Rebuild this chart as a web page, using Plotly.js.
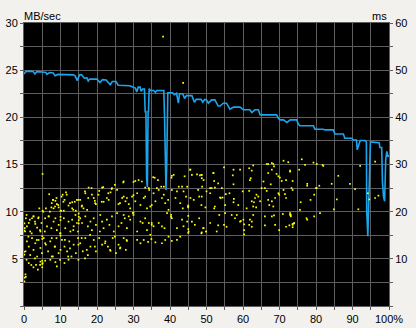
<!DOCTYPE html>
<html>
<head>
<meta charset="utf-8">
<script src="https://cdn.plot.ly/plotly-3.0.1.min.js"></script>
<style>
html,body{margin:0;padding:0;background:#f2f1ed;}
#chart{width:416px;height:328px;}
</style>
</head>
<body>
<div id="chart"></div>
<script>
// Transfer rate (MB/sec) vs. position (%)
const ratePct = [0,0.5,1.5,2.5,3.0,3.5,5.0,6.0,6.3,7.0,8.0,8.5,9.3,13.5,14.0,14.6,15.2,15.8,16.5,17.2,17.6,18.0,20.0,20.8,21.5,22.5,23.6,24.2,25.2,25.8,29.0,29.8,30.5,30.9,31.3,31.8,32.1,32.5,33.0,33.2,33.4,33.6,33.8,34.0,34.1,34.3,34.6,35.5,36.0,36.4,38.3,38.5,38.7,38.9,39.1,39.2,39.4,40.7,41.2,41.8,42.3,42.6,43.5,44.0,44.5,46.0,46.7,47.2,48.5,49.0,49.5,50.0,50.5,51.4,52.3,53.2,53.7,54.6,55.5,56.4,57.4,59.2,60.1,61.0,61.9,62.4,63.3,64.2,64.7,65.1,69.2,69.7,70.1,71.1,72.0,72.9,74.7,75.2,75.6,79.3,79.7,82.0,82.5,84.7,85.2,87.5,87.9,89.8,90.2,91.1,91.3,92.1,93.4,93.8,93.9,94.2,94.6,94.9,97.3,97.5,98.0,98.2,98.5,98.8,99.1,99.4,99.7,100];
const rateMB = [24.6,24.85,24.9,24.85,24.6,24.85,24.8,24.75,24.55,24.75,24.7,24.4,24.55,24.5,24.4,23.9,24.5,24.5,24.15,24.2,23.85,24.05,24.05,23.7,24.0,23.95,23.45,23.8,23.8,23.4,23.35,23.2,23.1,22.7,23.2,23.2,22.75,23.0,23.0,20.6,20.6,13.5,12.6,20.6,20.6,23.05,22.85,22.85,22.65,22.85,22.85,20.1,14.9,12.3,14.9,20.0,22.6,22.6,22.4,22.55,21.5,22.5,22.5,22.0,22.3,22.3,21.6,21.9,21.9,21.6,21.9,21.85,21.5,21.85,21.85,21.2,21.2,21.5,21.5,20.86,21.08,21.08,20.8,20.8,20.8,20.5,20.8,20.8,20.26,20.26,20.26,19.9,19.73,19.73,19.45,19.73,19.73,19.27,19.1,19.1,18.74,18.74,18.67,18.67,18.24,18.24,17.78,17.78,17.6,17.6,16.55,17.55,17.55,17.4,10.0,7.4,12.0,17.4,17.3,16.8,16.8,13.2,11.6,11.1,15.5,16.4,15.8,16.0];

// Access time (ms) samples: [position %, ms]
const accessPoints = [
[4.2,20.7],[5.1,20.2],[6.9,23.7],[7.9,22.5],[8.6,22.3],[9.0,21.6],[7.5,20.9],[8.1,20.7],[9.5,20.9],[10.0,20.2],[6.0,20.7],
[10.6,23.6],[11.1,22.5],[11.5,24.1],[12.2,21.3],[13.2,22.0],[13.9,22.1],[14.5,22.5],[10.2,20.2],[10.9,20.2],[13.2,20.7],[14.2,20.2],
[15.4,22.5],[15.9,21.3],[16.8,23.9],[17.7,25.1],[18.6,23.6],[19.1,22.9],[19.4,22.3],[19.7,21.6],[16.3,20.7],[17.3,20.4],
[20.6,24.4],[21.4,25.1],[21.8,22.1],[22.7,22.9],[23.7,24.1],[24.1,25.0],[23.2,22.5],
[0.5,18.6],[0.8,16.9],[1.3,17.6],[1.7,15.8],[2.2,18.6],[2.6,19.0],[3.1,17.4],[3.6,16.6],[4.0,18.8],[4.5,15.8],[0.2,16.5],
[5.8,18.6],[6.3,16.9],[6.8,19.0],[7.5,16.5],[8.1,17.9],[8.6,18.6],[9.0,16.1],[9.5,17.2],[10.0,15.4],[5.7,15.8],
[10.9,18.6],[11.3,16.5],[12.2,17.9],[12.7,15.8],[13.2,18.3],[13.6,16.9],[14.1,19.3],[14.5,17.6],[14.8,15.8],
[15.4,18.6],[15.9,17.6],[16.8,19.0],[17.5,16.9],[18.2,17.9],[18.6,16.1],[19.1,18.6],[19.7,17.2],
[20.9,19.3],[21.4,17.9],[21.8,16.5],[22.7,18.3],[23.4,17.2],[24.1,19.0],[24.6,15.8],
[0.4,11.6],[0.8,13.7],[1.3,12.6],[1.7,10.8],[2.2,14.4],[2.6,11.9],[3.1,13.3],[3.6,10.5],[4.0,14.0],[4.5,12.3],[4.9,11.2],
[5.4,14.4],[6.0,13.0],[6.6,11.6],[7.2,13.7],[7.9,10.5],[8.4,12.6],[8.9,14.4],[9.5,11.2],
[10.4,14.0],[11.1,12.6],[11.8,11.6],[12.4,13.7],[13.0,10.5],[13.6,13.0],[14.2,11.2],[14.8,14.4],
[15.4,13.3],[16.1,11.6],[16.8,14.4],[17.5,10.8],[18.2,12.6],[19.1,14.0],[19.7,11.6],
[20.6,14.4],[21.4,13.0],[22.3,13.7],[23.0,12.6],[23.7,11.7],[24.3,14.4],
[0.4,6.7],[0.5,6.2],[1.3,9.1],[2.0,8.7],[2.6,8.2],[3.3,8.7],[3.8,7.7],[4.5,9.4],[5.1,9.1],
[5.8,9.6],[7.2,9.8],[8.6,9.3],[9.0,8.4],[11.1,9.1],[12.2,9.8],[0.1,5.2],
[0.1,17.5],[0.1,16.0],[0.1,11.5],[0.1,10.9],[0.2,6.0],[5.0,14.8],[5.0,14.2],[5.0,9.6],[5.0,8.9],[5.0,8.2],[10.0,18.9],[10.0,18.2],[10.0,14.9],[10.0,11.9],[15.0,19.6],[15.0,18.9],[15.0,18.2],[15.0,17.5],
[0.7,19.3],[1.6,18.3],[2.6,19.0],[3.0,17.9],[3.9,18.6],[4.8,17.6],[5.3,20.0],[6.7,19.0],[7.1,20.0],[7.6,21.8],[8.0,22.5],[8.5,21.1],[8.9,22.9],[9.4,21.4],[10.3,23.2],[10.8,22.1],[11.7,23.6],[12.6,21.8],[13.5,20.4],[14.9,22.5],[15.8,21.1],[16.7,24.3],[17.6,22.9],[18.5,25.0],[19.5,21.8],[20.4,23.6],[21.3,22.1],[21.7,25.2],[23.1,23.9],[24.0,24.8],[24.9,25.7],[26.3,21.8],[27.2,26.2],
[0.3,15.8],[1.2,14.7],[2.1,15.4],[3.5,14.0],[4.4,16.1],[5.8,13.3],[7.6,14.4],[8.5,12.6],[9.9,15.4],[11.2,14.0],[12.6,12.2],[13.5,16.1],[14.9,13.0],[15.8,14.4],[17.2,11.9],[18.1,15.1],[19.4,12.6],[20.8,15.8],[22.2,13.3],[23.6,11.9],[24.9,14.7],[26.3,12.2],[28.1,14.0],
[0.7,9.8],[3.0,10.1],[4.4,8.7],[7.6,10.5],[9.9,9.8],[12.1,10.5],[14.9,9.8],[16.7,10.1],
[27.3,26.4],[30.0,26.3],[30.5,26.5],[31.4,26.7],[32.3,26.4],[33.2,25.1],[34.2,25.0],[35.8,27.2],[36.7,26.7],[37.6,25.3],[38.3,25.3],[36.4,25.0],[40.4,27.2],[41.0,27.8],[42.4,25.3],[43.3,25.3],[44.0,27.5],[44.7,25.3],[45.6,28.9],[46.0,27.8],[47.4,27.9],[48.6,27.8],[49.2,26.7],[48.8,25.3],
[25.5,24.6],[25.9,21.6],[26.9,22.9],[27.3,23.2],[27.8,22.2],[28.2,22.9],[28.7,21.6],[29.1,20.7],[29.6,23.2],[30.5,22.2],[31.0,23.9],[31.9,21.4],[32.8,22.9],[33.2,23.2],[33.7,20.7],[34.6,21.1],[34.3,24.6],[35.5,23.9],[36.0,22.2],[36.9,24.6],[37.8,22.9],[38.3,23.6],[38.7,21.8],[39.5,22.5],[39.6,20.4],[40.5,24.6],[41.5,22.9],[41.9,24.3],[42.8,21.8],[43.5,20.7],[44.4,23.2],[44.9,21.1],[43.7,24.3],[45.6,22.9],[46.5,22.5],[47.7,24.6],[48.0,23.2],[48.6,21.4],[49.7,20.9],
[25.5,19.7],[25.9,16.9],[26.7,17.6],[27.3,19.3],[27.6,18.6],[28.2,16.5],[28.7,19.0],[29.1,18.3],[29.8,19.7],[31.0,15.8],[31.9,17.9],[32.5,17.6],[33.2,18.6],[34.2,17.6],[34.6,15.1],[33.7,16.1],[35.5,16.9],[36.9,17.6],[37.8,16.9],[38.5,16.5],[39.2,19.7],[39.6,14.7],[40.5,18.6],[41.9,16.5],[42.8,14.7],[43.3,18.3],[43.7,16.9],[44.7,17.9],[45.1,15.8],[46.0,17.9],[46.8,17.2],[48.0,18.6],[48.6,15.4],[49.2,16.5],[49.9,15.8],
[25.9,13.0],[26.4,12.4],[27.9,11.9],[28.2,13.8],[27.3,14.4],[25.2,11.2],[31.0,14.0],[31.9,13.3],[32.8,14.0],[34.0,13.6],[34.9,14.2],[36.0,13.5],[37.8,13.3],[38.7,14.0],[40.5,13.8],[41.9,14.0],
[30.0,23.5],[30.0,19.8],[30.0,19.3],[35.0,21.4],[35.0,17.6],[35.0,17.2],[40.3,19.3],[40.3,18.9],[45.0,21.3],[45.0,20.9],[45.0,19.1],[45.0,16.3],[45.0,15.5],
[66.9,30.1],[67.9,30.3],[68.3,30.1],[71.1,30.8],[72.4,30.5],
[48.2,27.7],[48.7,27.1],[51.9,28.2],[52.1,26.5],[53.2,26.0],[54.8,29.4],[57.2,27.7],[57.4,28.9],[59.2,28.9],[57.4,25.8],[61.7,29.2],[62.4,28.7],[62.8,29.8],[61.9,26.7],[62.1,27.1],[65.6,26.4],[66.5,30.1],[66.9,28.2],[67.9,28.9],[68.5,29.6],[69.2,28.0],[70.1,27.2],[67.6,25.8],[69.7,27.5],[70.6,26.5],[71.8,26.7],[72.9,28.5],[73.6,26.5],
[48.7,23.2],[50.0,24.3],[51.0,25.0],[51.4,25.0],[52.3,25.1],[54.2,25.0],[54.4,23.0],[53.7,23.0],[53.9,22.9],[52.3,21.1],[52.1,20.7],[55.1,21.4],[51.0,23.9],[55.3,23.7],[56.3,23.9],[57.4,22.0],[57.5,22.7],[58.7,21.4],[59.9,24.3],[61.0,20.7],[61.7,24.4],[62.4,22.2],[62.8,21.1],[63.3,22.9],[63.7,23.6],[64.2,23.2],[64.7,22.2],[65.1,25.0],[63.0,22.0],[63.6,20.9],[66.0,25.0],[66.5,24.4],[66.9,22.5],[67.2,21.4],[67.9,22.2],[68.3,21.1],[68.8,22.9],[69.9,23.6],[69.7,23.9],[71.1,24.6],[71.5,23.7],[71.8,22.9],[73.3,25.0],
[49.1,16.5],[48.7,15.6],[49.9,15.8],[51.0,17.6],[52.8,15.8],[53.2,17.1],[53.5,19.3],[55.1,19.7],[54.8,17.2],[55.5,16.8],[56.9,19.3],[57.8,18.6],[59.2,17.9],[59.4,18.0],[60.1,18.3],[60.3,17.3],[60.3,16.1],[60.3,15.2],[58.3,19.3],[61.9,18.3],[62.4,17.9],[61.7,17.2],[62.4,16.8],[62.8,19.3],[66.0,19.0],[66.0,17.1],[67.9,19.0],[68.5,19.2],[68.8,17.2],[69.9,16.1],[70.9,19.5],[71.8,16.8],[72.9,19.3],[73.1,19.0],[72.7,17.1],[73.6,17.2],[74.0,17.6],
[76.1,31.1],[77.0,29.9],[79.3,30.4],[80.2,30.1],[81.8,29.9],[82.0,29.7],[75.4,28.9],[72.9,28.7],[86.1,27.6],[89.3,25.9],[84.3,25.9],[80.9,25.5],[77.6,25.9],[77.6,25.5],[80.2,25.0],[80.0,25.0],[73.6,24.6],[90.7,24.8],[94.2,23.9],[94.6,22.6],[96.2,22.9],[97.1,23.4],[79.5,23.6],[85.7,22.6],[78.5,22.5],[75.8,22.0],[72.9,19.7],[73.1,19.3],[75.6,20.4],[81.1,19.7],[84.9,20.5],[91.6,20.5],[77.4,18.6],[77.6,18.3],[79.5,19.0],[73.6,17.4],[74.0,17.5],[73.6,16.7],[92.1,29.7],[96.2,30.6],
[38.1,57.1],[43.6,47.3],[5.1,28.0],[35.4,27.3],[40.5,27.6],[45.5,28.9],[48.7,27.8],[51.9,28.2]
];

const xTickVals = [0,5,10,15,20,25,30,35,40,45,50,55,60,65,70,75,80,85,90,95,100];
const xTickText = ["0","","10","","20","","30","","40","","50","","60","","70","","80","","90","","100%"];
const yTickVals = [0,2.5,5,7.5,10,12.5,15,17.5,20,22.5,25,27.5,30];
const yTickText = ["","","5","","10","","15","","20","","25","","30"];
const y2TickVals = [0,5,10,15,20,25,30,35,40,45,50,55,60];
const y2TickText = ["","","10","","20","","30","","40","","50","","60"];

const gridCol = '#5e5e5e';
const fontSpec = {family:'Liberation Sans, Arial, sans-serif', size:11, color:'#000'};

const traces = [
  {
    x: accessPoints.map(p=>p[0]), y: accessPoints.map(p=>p[1]),
    type:'scatter', mode:'markers', yaxis:'y2',
    marker:{symbol:'square', size:1.7, color:'#ffff00', line:{width:0}},
    hoverinfo:'skip'
  },
  {
    x: ratePct, y: rateMB, type:'scatter', mode:'lines',
    line:{color:'#1aa6ee', width:1.6},
    hoverinfo:'skip'
  }
];

const layout = {
  width:416, height:328,
  margin:{l:24, r:27, t:23, b:22, pad:0},
  paper_bgcolor:'#f2f1ed', plot_bgcolor:'#000000',
  showlegend:false, font:fontSpec,
  xaxis:{range:[0,100], tickmode:'array', tickvals:xTickVals, ticktext:xTickText,
    ticks:'outside', ticklen:3, tickcolor:gridCol, showgrid:true, gridcolor:gridCol, gridwidth:1,
    zeroline:false, showline:true, linecolor:gridCol, mirror:true, tickfont:fontSpec, fixedrange:true},
  yaxis:{range:[0,30], tickmode:'array', tickvals:yTickVals, ticktext:yTickText,
    ticks:'outside', ticklen:3, tickcolor:gridCol, showgrid:true, gridcolor:gridCol, gridwidth:1,
    zeroline:false, showline:true, linecolor:gridCol, mirror:true, tickfont:fontSpec, fixedrange:true},
  yaxis2:{range:[0,60], overlaying:'y', side:'right', tickmode:'array', tickvals:y2TickVals, ticktext:y2TickText,
    ticks:'outside', ticklen:3, tickcolor:gridCol, showgrid:false, zeroline:false, showline:false,
    tickfont:fontSpec, fixedrange:true},
  annotations:[
    {text:'MB/sec', xref:'paper', yref:'paper', x:0, y:1.026, xanchor:'left', yanchor:'middle', showarrow:false, font:fontSpec, xshift:-2},
    {text:'ms', xref:'paper', yref:'paper', x:1, y:1.026, xanchor:'right', yanchor:'middle', showarrow:false, font:fontSpec}
  ]
};

Plotly.newPlot('chart', traces, layout, {staticPlot:true, displayModeBar:false});
</script>
</body>
</html>
